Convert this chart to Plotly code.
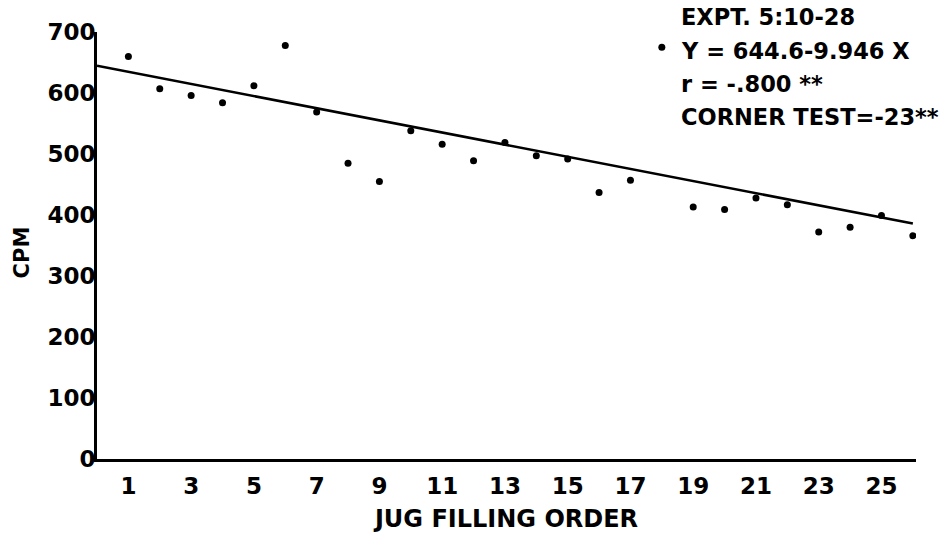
import plotly.graph_objects as go

# Jug filling order and counts per minute
jug_order = list(range(1, 27))
cpm = [660, 607, 596, 584, 612, 678, 569, 485, 455, 538, 516, 489, 519,
       497, 492, 437, 457, 675, 413, 409, 428, 417, 372, 380, 399, 366]

# Fitted regression: Y = a + b X
intercept = 644.6
slope = -9.946
fit_x = [0, 26]
fit_y = [intercept + slope * x for x in fit_x]

x_ticks = list(range(1, 26, 2))
y_ticks = list(range(0, 701, 100))

info_lines = ["EXPT. 5:10-28", "Y = 644.6-9.946 X", "r = -.800 **", "CORNER TEST=-23**"]

FONT = "DejaVu Sans"


def bold(size):
    return dict(family=FONT, size=size, color="black", weight="bold")


fig = go.Figure()
fig.add_trace(go.Scatter(x=fit_x, y=fit_y, mode="lines",
                         line=dict(color="black", width=2.5),
                         showlegend=False, hoverinfo="skip"))
fig.add_trace(go.Scatter(x=jug_order, y=cpm, mode="markers",
                         marker=dict(color="black", size=7),
                         showlegend=False))

for i, txt in enumerate(info_lines):
    fig.add_annotation(text=txt, xref="paper", yref="paper",
                       x=0.711, y=1.034 - i * 0.078,
                       xanchor="left", yanchor="middle", showarrow=False,
                       font=bold(22.5))

# rotated y-axis title
fig.add_annotation(text="CPM", xref="paper", yref="paper",
                   x=-0.092, y=0.483, textangle=-90,
                   xanchor="center", yanchor="middle", showarrow=False,
                   font=bold(21))

fig.update_layout(
    width=950, height=540,
    margin=dict(l=97, r=34, t=32, b=71),
    plot_bgcolor="white", paper_bgcolor="white",
    font=dict(family=FONT, color="black", weight="bold"),
    xaxis=dict(range=[0, 26.1], tickvals=x_ticks, ticktext=[str(v) for v in x_ticks],
               showgrid=False, zeroline=False, showline=True, linecolor="black",
               linewidth=3, ticks="", ticklabelstandoff=4,
               tickfont=bold(23),
               title=dict(text="JUG FILLING ORDER", standoff=13, font=bold(24))),
    yaxis=dict(range=[0, 700], tickvals=y_ticks, ticktext=[str(v) for v in y_ticks],
               showgrid=False, zeroline=False, showline=True, linecolor="black",
               linewidth=3, ticks="", ticklabelstandoff=-6,
               tickfont=bold(23)),
)

fig.write_html("out.html")
